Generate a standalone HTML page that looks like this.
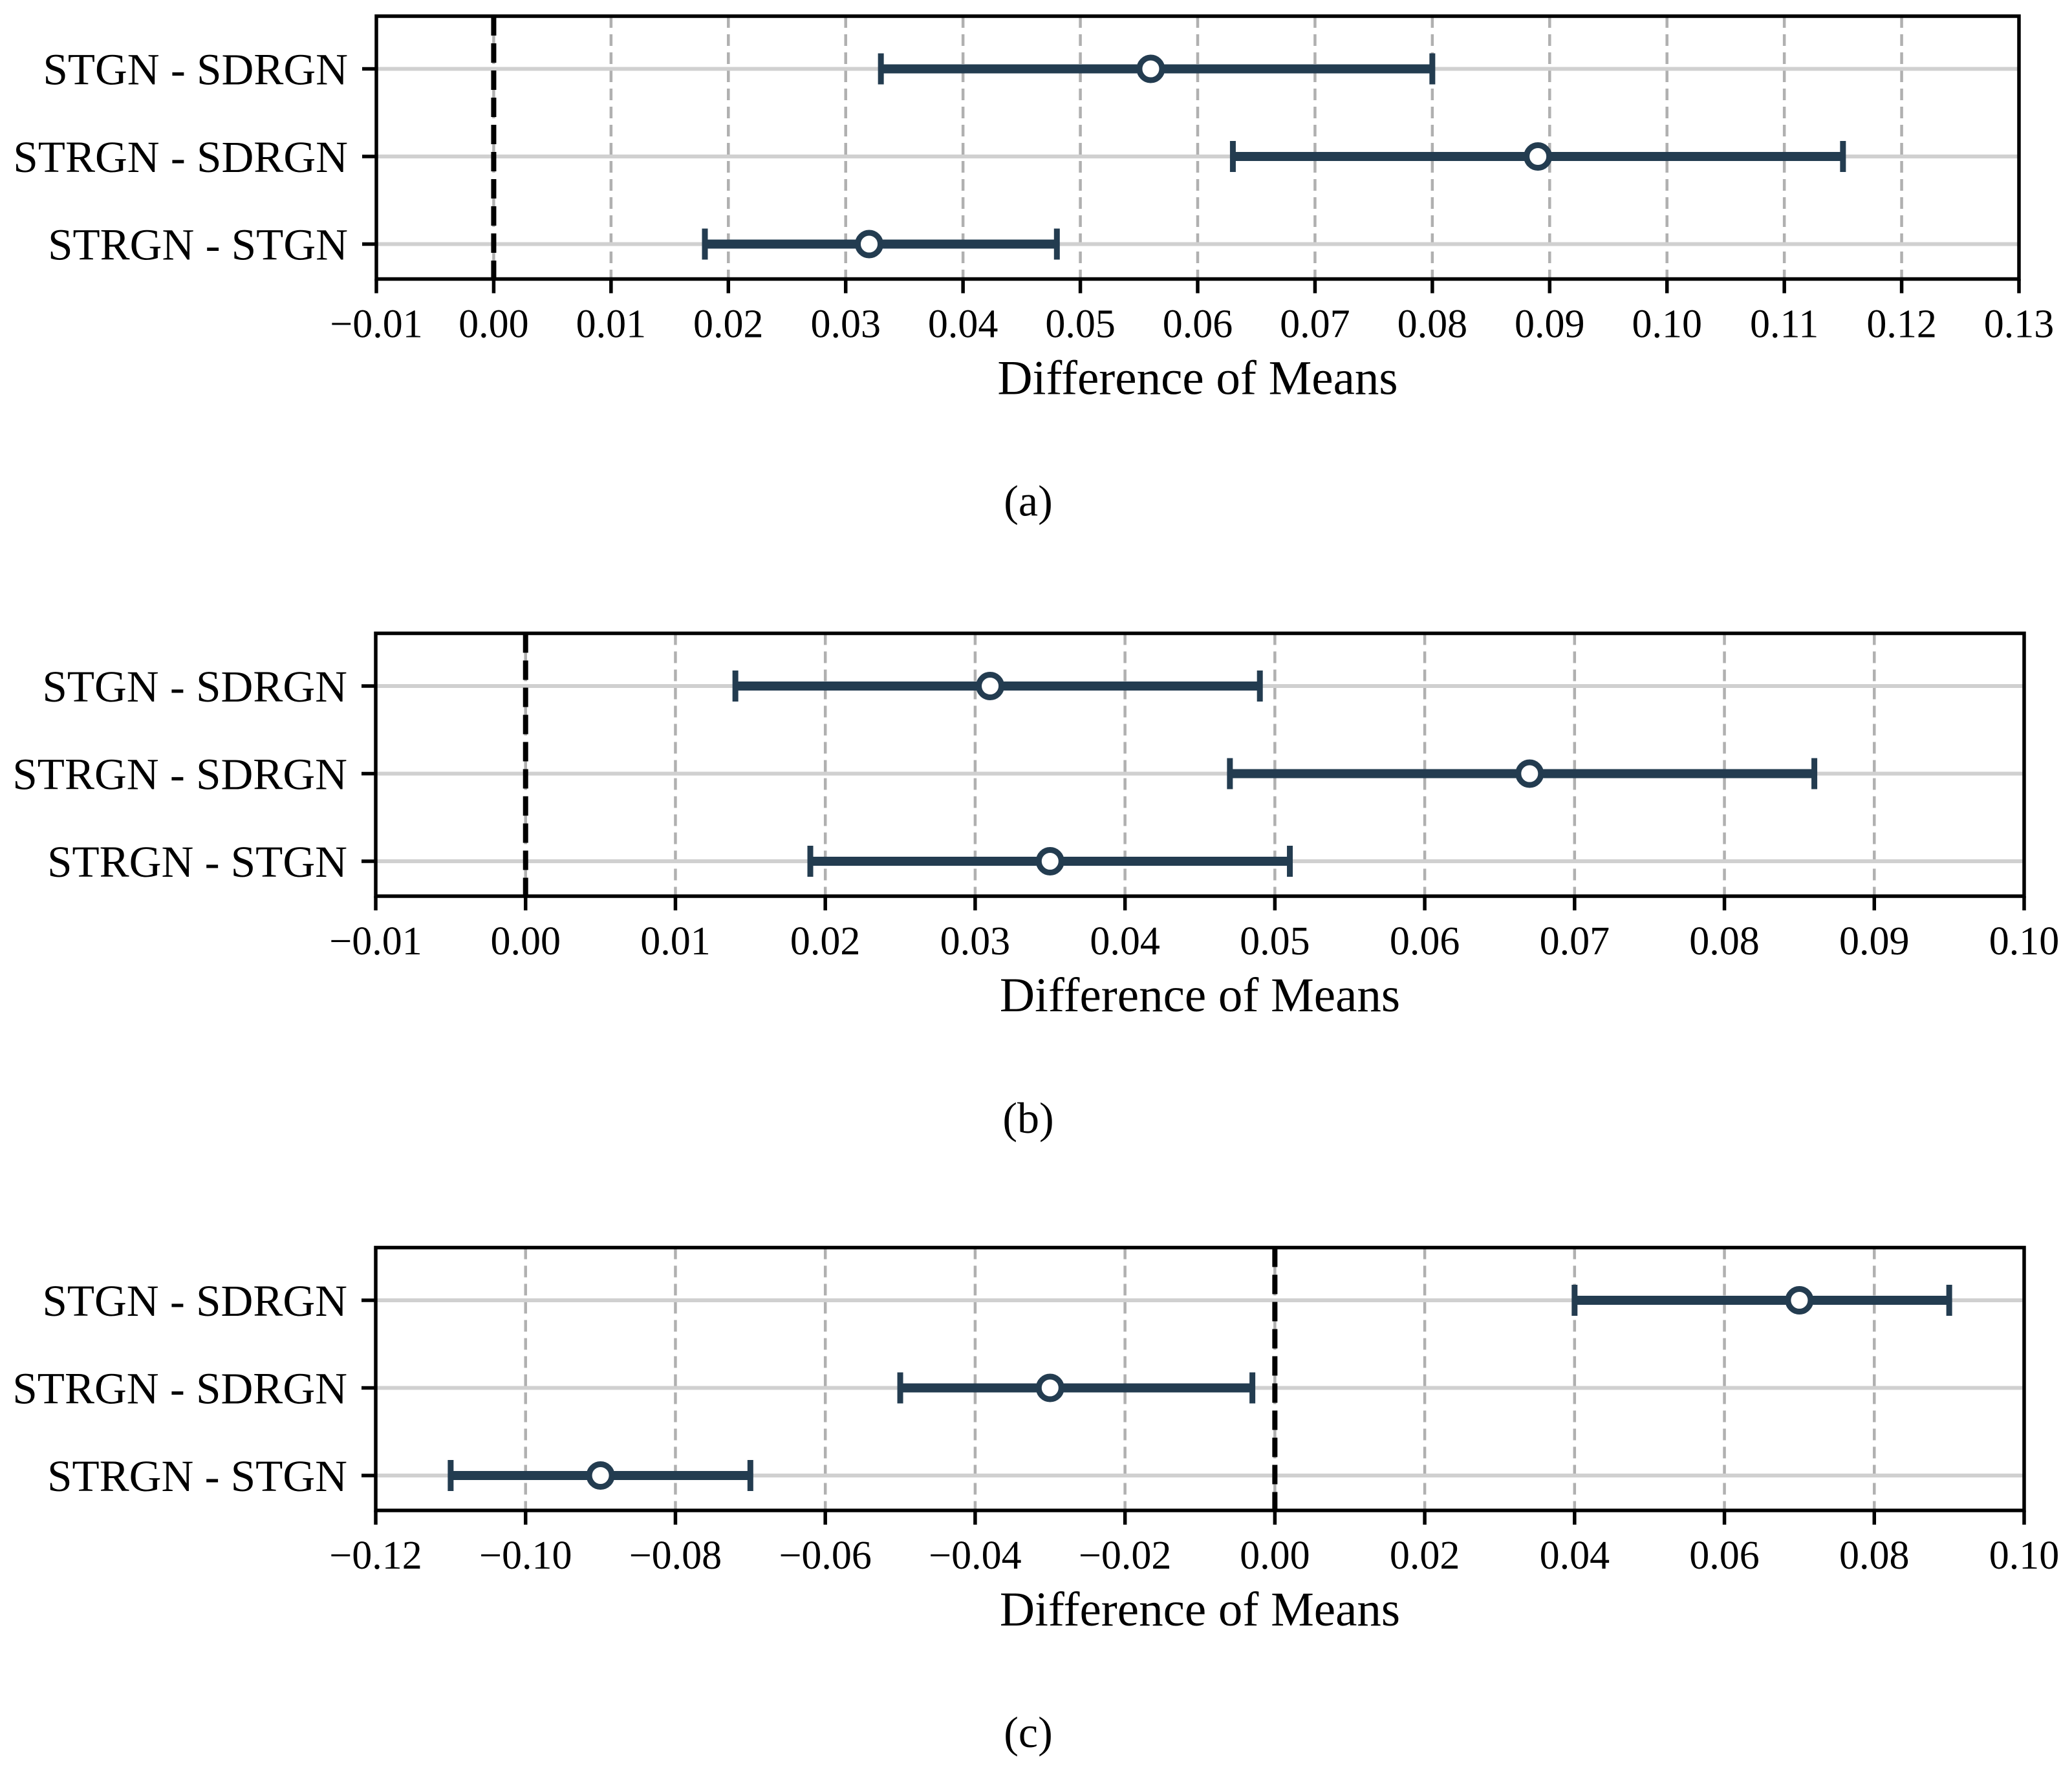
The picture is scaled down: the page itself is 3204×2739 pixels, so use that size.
<!DOCTYPE html>
<html><head><meta charset="utf-8">
<style>
html,body{margin:0;padding:0;background:#fff;}
svg{display:block;font-family:"Liberation Serif","DejaVu Serif",serif;}
</style></head>
<body>
<svg id="fig" width="3204" height="2739" viewBox="0 0 3204 2739" xmlns="http://www.w3.org/2000/svg"></svg>
<script>
const categories = ["STGN - SDRGN", "STRGN - SDRGN", "STRGN - STGN"];
const meansA = [0.056, 0.089, 0.032];
const lowA = [0.033, 0.063, 0.018];
const highA = [0.080, 0.115, 0.048];
const ticksA = ["\u22120.01","0.00","0.01","0.02","0.03","0.04","0.05","0.06","0.07","0.08","0.09","0.10","0.11","0.12","0.13"];
const tickValsA = [-0.01,0,0.01,0.02,0.03,0.04,0.05,0.06,0.07,0.08,0.09,0.10,0.11,0.12,0.13];
const meansB = [0.031, 0.067, 0.035];
const lowB = [0.014, 0.047, 0.019];
const highB = [0.049, 0.086, 0.051];
const ticksB = ["\u22120.01","0.00","0.01","0.02","0.03","0.04","0.05","0.06","0.07","0.08","0.09","0.10"];
const tickValsB = [-0.01,0,0.01,0.02,0.03,0.04,0.05,0.06,0.07,0.08,0.09,0.10];
const meansC = [0.07, -0.03, -0.09];
const lowC = [0.04, -0.05, -0.110];
const highC = [0.09, -0.003, -0.07];
const ticksC = ["\u22120.12","\u22120.10","\u22120.08","\u22120.06","\u22120.04","\u22120.02","0.00","0.02","0.04","0.06","0.08","0.10"];
const tickValsC = [-0.12,-0.10,-0.08,-0.06,-0.04,-0.02,0,0.02,0.04,0.06,0.08,0.10];
const captions = ["(a)", "(b)", "(c)"];

const NS = "http://www.w3.org/2000/svg";
const svg = document.getElementById('fig');
function mk(tag, attrs, parent, text){
  const e = document.createElementNS(NS, tag);
  for (const k in attrs) e.setAttribute(k, attrs[k]);
  if (text !== undefined) e.textContent = text;
  (parent || svg).appendChild(e);
  return e;
}
const C = "#233c50";
function panel(key, top, left, right, tickVals, tickLabels, means, lows, highs, caption){
  const bottom = top + 406.5;
  const x0 = tickVals[0], x1 = tickVals[tickVals.length-1];
  const xs = v => left + (v - x0) / (x1 - x0) * (right - left);
  const ys = i => top + 81.5 + i * 135.5;
  const g = mk('g', {});
  
  
  tickVals.forEach((v, i) => {
    if (i === 0 || i === tickVals.length - 1) return;
    const l = mk('line', {x1: xs(v), x2: xs(v), y1: top, y2: bottom, stroke: '#b0b0b0', 'stroke-width': 4.5, 'stroke-dasharray': '18 10'}, g);
    
    
  });
  categories.forEach((c, i) => {
    const l = mk('line', {x1: left, x2: right, y1: ys(i), y2: ys(i), stroke: '#d0d0d0', 'stroke-width': 6}, g);
    
    
  });
  const z = mk('line', {x1: xs(0), x2: xs(0), y1: top, y2: bottom, stroke: '#000', 'stroke-width': 8, 'stroke-dasharray': '30 12'}, g);
  
  
  categories.forEach((c, i) => {
    const y = ys(i);
    const bar = mk('g', {}, g);
    
    
    mk('line', {x1: xs(lows[i]), x2: xs(highs[i]), y1: y, y2: y, stroke: C, 'stroke-width': 14}, bar);
    mk('line', {x1: xs(lows[i]), x2: xs(lows[i]), y1: y - 24, y2: y + 24, stroke: C, 'stroke-width': 9}, bar);
    mk('line', {x1: xs(highs[i]), x2: xs(highs[i]), y1: y - 24, y2: y + 24, stroke: C, 'stroke-width': 9}, bar);
    const p = mk('circle', {cx: xs(means[i]), cy: y, r: 17.5, fill: '#fff', stroke: C, 'stroke-width': 9}, bar);
    
    
  });
  const f = mk('rect', {x: left, y: top, width: right - left, height: bottom - top, fill: 'none', stroke: '#000', 'stroke-width': 5.5}, g);
  
  
  tickVals.forEach((v, i) => {
    mk('line', {x1: xs(v), x2: xs(v), y1: bottom, y2: bottom + 22, stroke: '#000', 'stroke-width': 5.5}, g);
    const t = mk('text', {x: xs(v), y: bottom + 90, 'font-size': 62, 'text-anchor': 'middle', fill: '#000'}, g, tickLabels[i]);
    
    
  });
  categories.forEach((c, i) => {
    mk('line', {x1: left - 22, x2: left, y1: ys(i), y2: ys(i), stroke: '#000', 'stroke-width': 5.5}, g);
    const t = mk('text', {x: left - 44, y: ys(i) + 24, 'font-size': 69, 'text-anchor': 'end', fill: '#000'}, g, c);
    
    
  });
  const xl = mk('text', {x: (left + right) / 2, y: bottom + 178, 'font-size': 75, 'text-anchor': 'middle', fill: '#000'}, g, 'Difference of Means');
  
  
  const cp = mk('text', {x: 1590, y: bottom + 366, 'font-size': 68, 'text-anchor': 'middle', fill: '#000'}, g, caption);
  
  
}
panel('a', 25, 582, 3122, tickValsA, ticksA, meansA, lowA, highA, captions[0]);
panel('b', 979.5, 581, 3130, tickValsB, ticksB, meansB, lowB, highB, captions[1]);
panel('c', 1929.5, 581, 3130, tickValsC, ticksC, meansC, lowC, highC, captions[2]);
</script>
</body></html>
